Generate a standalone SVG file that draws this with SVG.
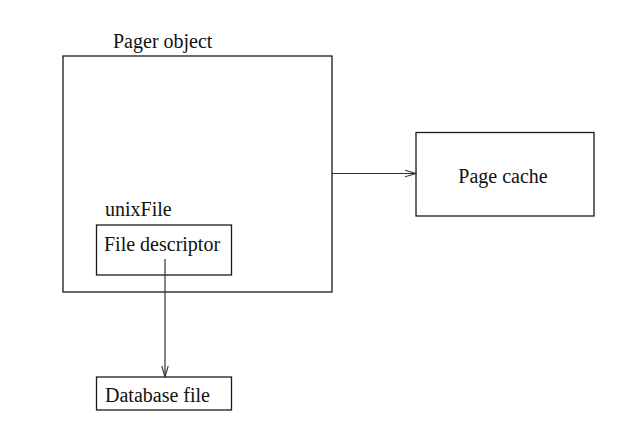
<svg xmlns="http://www.w3.org/2000/svg" width="643" height="426" viewBox="0 0 643 426">
<style>
.box{fill:none;stroke:#1a1a1a;stroke-width:1.3}
.lbl{font-family:"Liberation Serif","Times New Roman",serif;font-size:20px;fill:#111}
.edge{fill:none;stroke:#333;stroke-width:1.2}
</style>
<defs>
<marker id="arr" markerWidth="12" markerHeight="8" refX="11" refY="4" orient="auto" markerUnits="userSpaceOnUse">
<path d="M0,0.8 L11,4 L0,7.2" fill="none" stroke="#333" stroke-width="1.1"/>
</marker>
</defs>
<rect width="643" height="426" fill="#fff"/>
<g id="pager">
<rect class="box" x="63" y="56" width="269" height="236"/>
<text class="lbl" x="113" y="48">Pager object</text>
</g>
<g id="unixfile">
<text class="lbl" x="105" y="216">unixFile</text>
<rect class="box" x="96.5" y="225" width="135" height="50"/>
<text class="lbl" x="104" y="251">File descriptor</text>
</g>
<g id="pagecache">
<rect class="box" x="416" y="132.5" width="178" height="83.5"/>
<text class="lbl" x="503" y="183" text-anchor="middle">Page cache</text>
</g>
<g id="dbfile">
<rect class="box" x="96.5" y="377" width="135" height="33"/>
<text class="lbl" x="105" y="402">Database file</text>
</g>
<g id="connectors">
<line class="edge" x1="332" y1="173.5" x2="416" y2="173.5" marker-end="url(#arr)"/>
<line class="edge" x1="165" y1="259" x2="165" y2="377" marker-end="url(#arr)"/>
</g>
</svg>
